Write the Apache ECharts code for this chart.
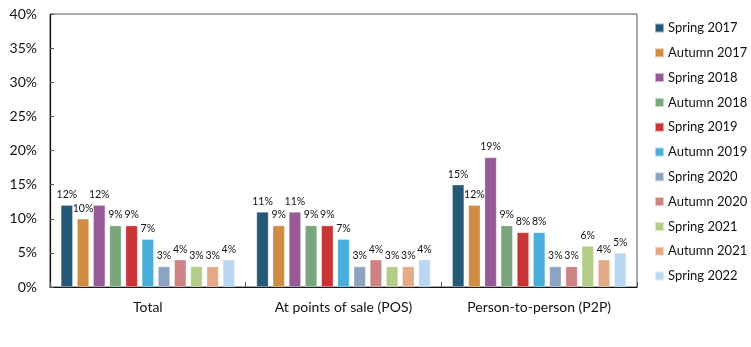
<!DOCTYPE html>
<html>
<head>
<meta charset="utf-8">
<script src="https://cdn.jsdelivr.net/npm/echarts@6/dist/echarts.min.js"></script>
<style>
  html, body { margin: 0; padding: 0; background: #fff; }
  #chart { width: 751px; height: 347px; }
</style>
</head>
<body>
<div id="chart"></div>
<script>
// Share of respondents by payment context and survey wave (%)
const categories = ['Total', 'At points of sale (POS)', 'Person-to-person (P2P)'];
const waves = ['Spring 2017', 'Autumn 2017', 'Spring 2018', 'Autumn 2018', 'Spring 2019',
  'Autumn 2019', 'Spring 2020', 'Autumn 2020', 'Spring 2021', 'Autumn 2021', 'Spring 2022'];
const spring2017 = [12, 11, 15];
const autumn2017 = [10, 9, 12];
const spring2018 = [12, 11, 19];
const autumn2018 = [9, 9, 9];
const spring2019 = [9, 9, 8];
const autumn2019 = [7, 7, 8];
const spring2020 = [3, 3, 3];
const autumn2020 = [4, 4, 3];
const spring2021 = [3, 3, 6];
const autumn2021 = [3, 3, 4];
const spring2022 = [4, 4, 5];
const yTicks = [0, 5, 10, 15, 20, 25, 30, 35, 40];

const waveValues = [spring2017, autumn2017, spring2018, autumn2018, spring2019,
  autumn2019, spring2020, autumn2020, spring2021, autumn2021, spring2022];
const palette = ['#245a78', '#d08c40', '#985a96', '#79a67c', '#c93437', '#4aaedb',
  '#8ca3c2', '#cd8284', '#b3cc88', '#e4a987', '#b9d7f1'];

const FONT = 'Lato, "Liberation Sans", sans-serif';

const chart = echarts.init(document.getElementById('chart'), null, { renderer: 'canvas' });

const series = waves.map((name, i) => ({
  name,
  type: 'bar',
  data: waveValues[i],
  barWidth: 12,
  barGap: '35%',
  itemStyle: { color: palette[i], borderColor: 'rgba(255,255,255,0.55)', borderWidth: 0.6 },
  label: {
    show: true,
    position: 'top',
    distance: 5,
    formatter: p => p.value + '%',
    color: '#111',
    fontFamily: FONT,
    fontSize: 10.5
  }
}));

chart.setOption({
  animation: false,
  backgroundColor: '#fff',
  grid: { left: 50, right: 114, top: 14, bottom: 60, show: true, borderColor: '#555', borderWidth: 1 },
  legend: {
    orient: 'vertical',
    left: 649,
    top: 16,
    itemWidth: 9,
    itemHeight: 9,
    itemGap: 10.8,
    icon: 'rect',
    textStyle: { fontFamily: FONT, fontSize: 13, color: '#111', lineHeight: 14, padding: [0, 0, 0, -1] },
    data: waves
  },
  xAxis: {
    type: 'category',
    data: categories,
    axisLine: { lineStyle: { color: '#111', width: 1.2 } },
    axisTick: { show: true, inside: true, length: 5, lineStyle: { color: '#555' } },
    axisLabel: { fontFamily: FONT, fontSize: 14, color: '#111', margin: 13 }
  },
  yAxis: {
    type: 'value',
    min: yTicks[0],
    max: yTicks[yTicks.length - 1],
    interval: 5,
    axisLine: { show: true, lineStyle: { color: '#111', width: 1.2 } },
    axisTick: { show: true, inside: true, length: 4, lineStyle: { color: '#555' } },
    splitLine: { show: false },
    axisLabel: { fontFamily: FONT, fontSize: 14, color: '#111', margin: 13, formatter: v => v + '%' }
  },
  series
});
</script>
</body>
</html>
